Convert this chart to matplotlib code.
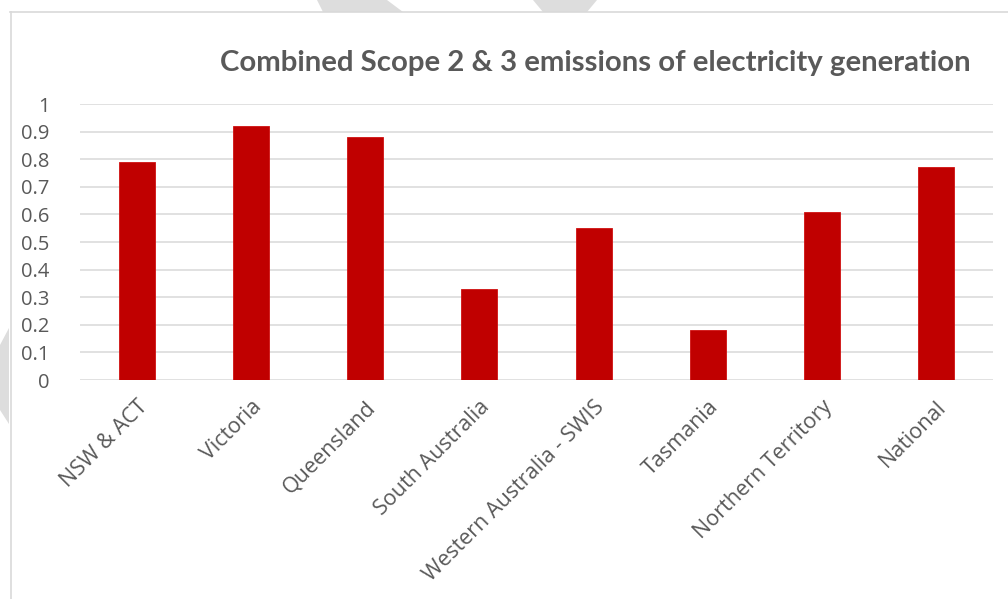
import numpy as np
import matplotlib
matplotlib.use("Agg")
import matplotlib.pyplot as plt
from matplotlib.patches import Polygon
from matplotlib.lines import Line2D

# Data
regions = ["NSW & ACT", "Victoria", "Queensland", "South Australia",
           "Western Australia - SWIS", "Tasmania", "Northern Territory", "National"]
emissions = [0.79, 0.92, 0.88, 0.33, 0.55, 0.18, 0.61, 0.77]
y_ticks = [0, 0.1, 0.2, 0.3, 0.4, 0.5, 0.6, 0.7, 0.8, 0.9, 1]
y_tick_labels = ["0", "0.1", "0.2", "0.3", "0.4", "0.5", "0.6", "0.7", "0.8", "0.9", "1"]
title = "Combined Scope 2 & 3 emissions of electricity generation"

W, H = 1008, 599
BAR_COLOR = "#C00000"
TEXT_COLOR = "#595959"
GRID_COLOR = "#D9D9D9"

fig = plt.figure(figsize=(W / 100, H / 100), dpi=100)

# background watermark pieces (pixel coords -> figure fraction)
def px(points):
    return [(x / W, 1 - y / H) for x, y in points]

for pts in ([(317, 0), (387, 0), (403, 12), (323, 12)],
            [(533, 0), (597, 0), (587, 12), (543, 12)],
            [(0, 345), (9, 328), (9, 424), (0, 410)]):
    fig.add_artist(Polygon(px(pts), closed=True, transform=fig.transFigure,
                           facecolor="#DDDDDD", edgecolor="none", zorder=0))

# chart frame (cut off at the right and bottom)
fig.add_artist(Line2D([10.5 / W, 10.5 / W], [1 - 12 / H, 0], transform=fig.transFigure,
                      color=GRID_COLOR, lw=1.2))
fig.add_artist(Line2D([10 / W, 1], [1 - 12 / H, 1 - 12 / H], transform=fig.transFigure,
                      color=GRID_COLOR, lw=1.2))

ax = fig.add_axes([80 / W, 1 - 380 / H, (993 - 80) / W, (380 - 104) / H])
x = np.arange(len(regions))
ax.bar(x, emissions, width=0.315, color=BAR_COLOR, edgecolor="#D01010", linewidth=0.6, zorder=3)

ax.set_xlim(-0.5, len(regions) - 0.5)
ax.set_ylim(0, 1)
ax.set_yticks(y_ticks)
ax.set_yticklabels(y_tick_labels, fontfamily="Open Sans", fontsize=14.5, color=TEXT_COLOR)
ax.set_xticks(x)
ax.set_xticklabels(regions, fontfamily="Open Sans", fontsize=15.5, color=TEXT_COLOR,
                   rotation=45, ha="right", rotation_mode="anchor")
ax.tick_params(axis="y", length=0, pad=22)
ax.tick_params(axis="x", length=0, pad=12)

ax.grid(axis="y", color=GRID_COLOR, lw=1.1, zorder=0)
for s in ax.spines.values():
    s.set_visible(False)

fig.text(595 / W, 1 - 63 / H, title, ha="center", va="center",
         fontfamily="Lato", fontweight="bold", fontsize=21.2, color=TEXT_COLOR)

fig.savefig("out.png", dpi=100)
